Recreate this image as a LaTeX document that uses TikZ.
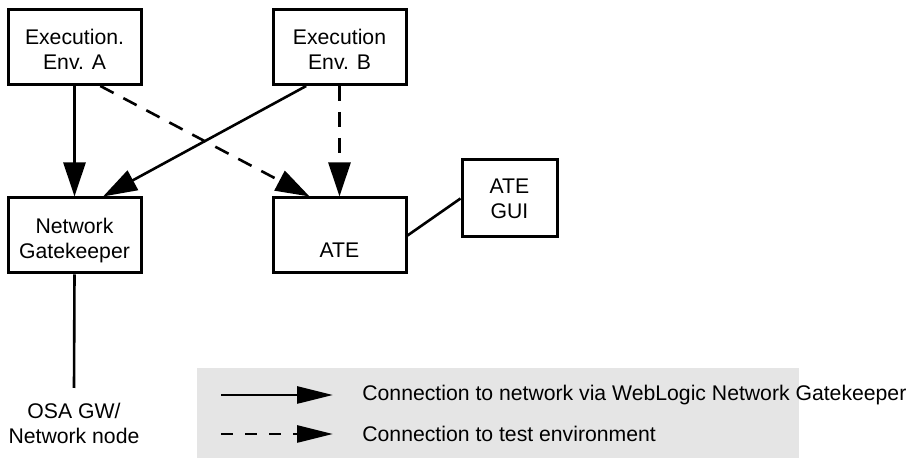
\documentclass[tikz,border=0pt]{standalone}
\usepackage{fontspec}
\setmainfont{Liberation Sans}
\usetikzlibrary{arrows.meta,calc}
\begin{document}
\begin{tikzpicture}[x=0.5pt,y=-0.5pt,
  every node/.style={font=\fontsize{10.6}{12.5}\selectfont, inner sep=0pt},
  box/.style={draw, line width=1.5pt, minimum width=66.5pt, minimum height=37.5pt, align=center},
  conn/.style={line width=1.3pt, -{Triangle[length=17pt,width=11pt]}},
  tconn/.style={conn, dash pattern=on 7.5pt off 5.5pt},
  legsolid/.style={line width=1.3pt, -{Triangle[length=18pt,width=8.5pt]}},
  legdash/.style={legsolid, dash pattern=on 6pt off 6pt}]
\useasboundingbox (0,0) rectangle (912,459);
\fill[gray!20] (197,368) rectangle (799,458);
\node[box] (ea) at (74.5,47) {\rule{0pt}{10.1pt}Execution.\\Env. A};
\node[box] (eb) at (339.5,47) {\rule{0pt}{10.1pt}Execution\\Env. B};
\node[box] (ng) at (74.5,235.5) {\rule{0pt}{12.6pt}Network\\Gatekeeper};
\node[box] (ate) at (339.5,235.5) {\rule{0pt}{9.5pt}\\ATE};
\node[box, minimum width=47.5pt, minimum height=38.5pt] (gui) at (509.5,198.5) {ATE\\GUI};
\node[anchor=north, align=center, inner xsep=0pt, inner ysep=7.5pt] (osa) at (74,388) {OSA GW/\\Network node};
\draw[line width=1.3pt] (ng.south) -- (osa.north);
\draw[conn] (ea.south) -- (ng.north);
\draw[tconn] ($(ea.south west)!0.69!(ea.south east)$) -- ($(ate.north west)!0.28!(ate.north east)$);
\draw[conn] ($(eb.south west)!0.255!(eb.south east)$) -- ($(ng.north west)!0.71!(ng.north east)$);
\draw[tconn] (eb.south) -- (ate.north);
\draw[line width=1.3pt] (ate.east) -- (gui.west);
\coordinate (l1a) at (221,395);
\coordinate (l1b) at (333,395);
\coordinate (l2a) at (221,434);
\coordinate (l2b) at (333,434);
\draw[legsolid] (l1a) -- (l1b);
\draw[legdash] (l2a) -- (l2b);
\node[anchor=west] (t1) at (362,395) {Connection to network via WebLogic Network Gatekeeper};
\node[anchor=west] (t2) at (362,434) {Connection to test environment};
\end{tikzpicture}
\end{document}
